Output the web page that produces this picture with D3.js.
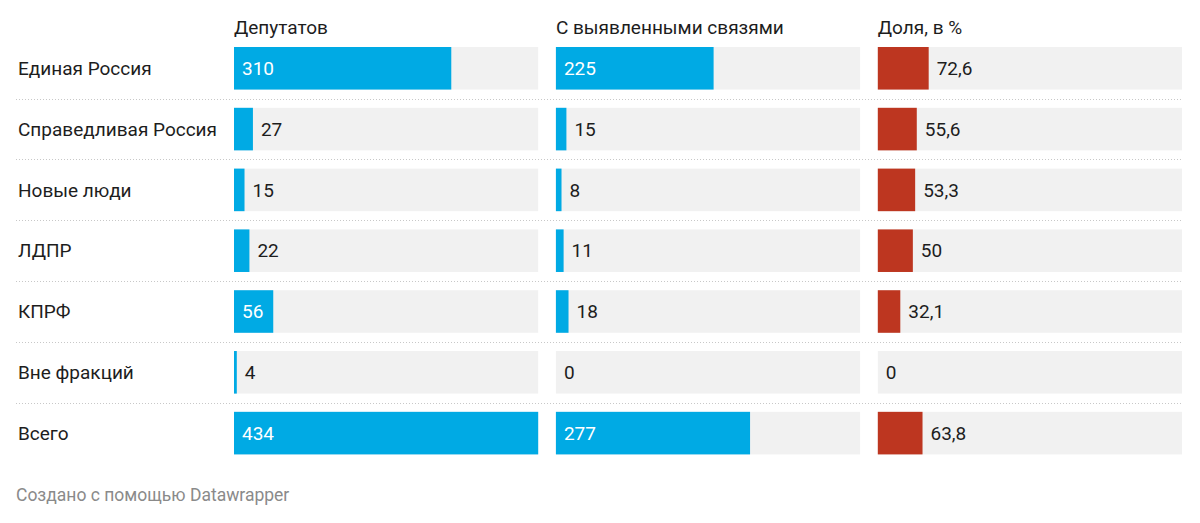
<!DOCTYPE html>
<html>
<head>
<meta charset="utf-8">
<script src="https://cdn.jsdelivr.net/npm/d3@7"></script>
<style>
  html, body { margin: 0; padding: 0; background: #fff; }
  svg { display: block; font-family: Roboto, "Noto Sans", sans-serif; }
</style>
</head>
<body>
<svg id="chart" width="1200" height="523"></svg>
<script>
const categories = ["Единая Россия", "Справедливая Россия", "Новые люди", "ЛДПР", "КПРФ", "Вне фракций", "Всего"];
const columns = ["Депутатов", "С выявленными связями", "Доля, в %"];
const deputies = [310, 27, 15, 22, 56, 4, 434];
const linked = [225, 15, 8, 11, 18, 0, 277];
const share = [72.6, 55.6, 53.3, 50, 32.1, 0, 63.8];
const footer = "Создано с помощью Datawrapper";

const series = [deputies, linked, share];
const colors = ["#00aae4", "#00aae4", "#bd3620"];
const labelsOutside = [false, false, true];

const svg = d3.select("#chart");

const y = d3.scaleBand().domain(categories).range([47, 454.4]).paddingInner(0.3).paddingOuter(0);
const colX = d3.scaleBand().domain(columns).range([234, 1182]).paddingInner(0.055).paddingOuter(0);
const x = d3.scaleLinear().domain([0, 434]).range([0, colX.bandwidth()]);

const fmt = v => String(v).replace(".", ",");

// separators
const sepYs = categories.slice(0, -1).map(c => y(c) + y.bandwidth() + (y.step() - y.bandwidth()) / 2);
svg.selectAll("line.sep").data(sepYs).join("line")
  .attr("class", "sep")
  .attr("x1", 16).attr("x2", 1182)
  .attr("y1", d => Math.round(d) + 0.5).attr("y2", d => Math.round(d) + 0.5)
  .attr("stroke", "#c8c8c8").attr("stroke-width", 1).attr("stroke-dasharray", "1,2");

// row labels
svg.selectAll("text.cat").data(categories).join("text")
  .attr("class", "cat")
  .attr("x", 18)
  .attr("y", d => y(d) + y.bandwidth() / 2)
  .attr("dy", "0.35em")
  .attr("font-size", 19)
  .attr("fill", "#1d1d1d")
  .text(d => d);

// column headers
svg.selectAll("text.hdr").data(columns).join("text")
  .attr("class", "hdr")
  .attr("x", d => colX(d))
  .attr("y", 34)
  .attr("font-size", 19)
  .attr("fill", "#1d1d1d")
  .text(d => d);

columns.forEach((col, ci) => {
  const g = svg.append("g").attr("transform", `translate(${colX(col)},0)`);
  const data = categories.map((c, i) => ({ c, v: series[ci][i] }));
  g.selectAll("rect.bg").data(data).join("rect")
    .attr("x", 0).attr("y", d => y(d.c))
    .attr("width", colX.bandwidth()).attr("height", y.bandwidth())
    .attr("fill", "#f1f1f1");
  g.selectAll("rect.bar").data(data).join("rect")
    .attr("x", 0).attr("y", d => y(d.c))
    .attr("width", d => x(d.v)).attr("height", y.bandwidth())
    .attr("fill", colors[ci]);
  g.selectAll("text.val").data(data).join("text")
    .attr("font-size", 19)
    .attr("y", d => y(d.c) + y.bandwidth() / 2)
    .attr("dy", "0.35em")
    .text(d => fmt(d.v))
    .each(function (d) {
      const t = d3.select(this);
      const tw = this.getComputedTextLength();
      const bw = x(d.v);
      const inside = !labelsOutside[ci] && bw > tw + 16;
      if (inside) {
        t.attr("x", 8).attr("fill", "#ffffff");
      } else {
        t.attr("x", bw + 8).attr("fill", "#1d1d1d");
      }
    });
});

svg.append("text")
  .attr("x", 16).attr("y", 501)
  .attr("font-size", 17.5)
  .attr("fill", "#8a8a8a")
  .text(footer);
</script>
</body>
</html>
